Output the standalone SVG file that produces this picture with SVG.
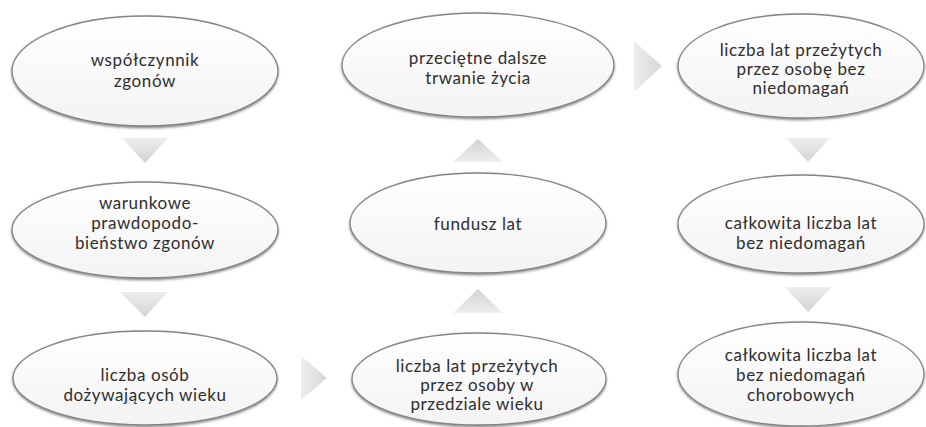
<svg xmlns="http://www.w3.org/2000/svg" width="926" height="427" viewBox="0 0 926 427">
<defs>
<linearGradient id="eg" x1="0" y1="0" x2="0" y2="1">
<stop offset="0" stop-color="#ffffff"/>
<stop offset="1" stop-color="#f3f3f3"/>
</linearGradient>
<linearGradient id="tgv" x1="0" y1="0" x2="0" y2="1">
<stop offset="0" stop-color="#eeeeee"/>
<stop offset="1" stop-color="#d2d2d2"/>
</linearGradient>
<linearGradient id="tgu" x1="0" y1="1" x2="0" y2="0">
<stop offset="0" stop-color="#eeeeee"/>
<stop offset="1" stop-color="#d2d2d2"/>
</linearGradient>
<linearGradient id="tgh" x1="0" y1="0" x2="1" y2="0">
<stop offset="0" stop-color="#eeeeee"/>
<stop offset="1" stop-color="#d6d6d6"/>
</linearGradient>
<filter id="sh" x="-10%" y="-10%" width="120%" height="130%">
<feDropShadow dx="0" dy="1.5" stdDeviation="1" flood-color="#444" flood-opacity="0.65"/>
</filter>
</defs>
<style>
.node ellipse{fill:url(#eg);stroke:#858585;stroke-width:1.3;filter:url(#sh)}
.node text{font-family:Lato,"Open Sans","Liberation Sans",sans-serif;font-size:17px;letter-spacing:0.6px;fill:#2e2e2e;text-anchor:middle}
.arr .v{fill:url(#tgv)}
.arr .u{fill:url(#tgu)}
.arr .h{fill:url(#tgh)}
</style>
<rect width="926" height="427" fill="#fff"/>
<g id="connectors" class="arr">
<polygon class="v" points="122,138 168,138 145,163"/>
<polygon class="v" points="120,292 168,292 145,317"/>
<polygon class="h" points="301,356 301,400 327,378"/>
<polygon class="u" points="453,313 503,313 478,289"/>
<polygon class="u" points="453,162 503,162 478,139"/>
<polygon class="h" points="634,41 634,92 662,66"/>
<polygon class="v" points="786,138 830,138 808,162"/>
<polygon class="v" points="785,287 832,287 808,312"/>
</g>
<g id="n1" class="node">
<ellipse cx="145" cy="71" rx="133" ry="55"/>
<text x="145" y="66">współczynnik</text>
<text x="145" y="87">zgonów</text>
</g>
<g id="n2" class="node">
<ellipse cx="145" cy="230" rx="133" ry="48"/>
<text x="145" y="209">warunkowe</text>
<text x="145" y="229">prawdopodo-</text>
<text x="145" y="249">bieństwo zgonów</text>
</g>
<g id="n3" class="node">
<ellipse cx="145" cy="378" rx="132" ry="47"/>
<text x="145" y="381">liczba osób</text>
<text x="145" y="401">dożywających wieku</text>
</g>
<g id="n4" class="node">
<ellipse cx="479" cy="379" rx="127" ry="46"/>
<text x="477" y="372">liczba lat przeżytych</text>
<text x="477" y="391">przez osoby w</text>
<text x="477" y="410">przedziale wieku</text>
</g>
<g id="n5" class="node">
<ellipse cx="478" cy="223" rx="128" ry="50"/>
<text x="478" y="230">fundusz lat</text>
</g>
<g id="n6" class="node">
<ellipse cx="478" cy="65" rx="136" ry="52"/>
<text x="478" y="64">przeciętne dalsze</text>
<text x="478" y="84">trwanie życia</text>
</g>
<g id="n7" class="node">
<ellipse cx="801" cy="66" rx="123" ry="52"/>
<text x="801" y="56">liczba lat przeżytych</text>
<text x="801" y="75">przez osobę bez</text>
<text x="801" y="94">niedomagań</text>
</g>
<g id="n8" class="node">
<ellipse cx="801" cy="224" rx="123" ry="49"/>
<text x="801" y="229">całkowita liczba lat</text>
<text x="801" y="249">bez niedomagań</text>
</g>
<g id="n9" class="node">
<ellipse cx="801" cy="374" rx="123" ry="52"/>
<text x="801" y="361">całkowita liczba lat</text>
<text x="801" y="381">bez niedomagań</text>
<text x="801" y="401">chorobowych</text>
</g>
</svg>
